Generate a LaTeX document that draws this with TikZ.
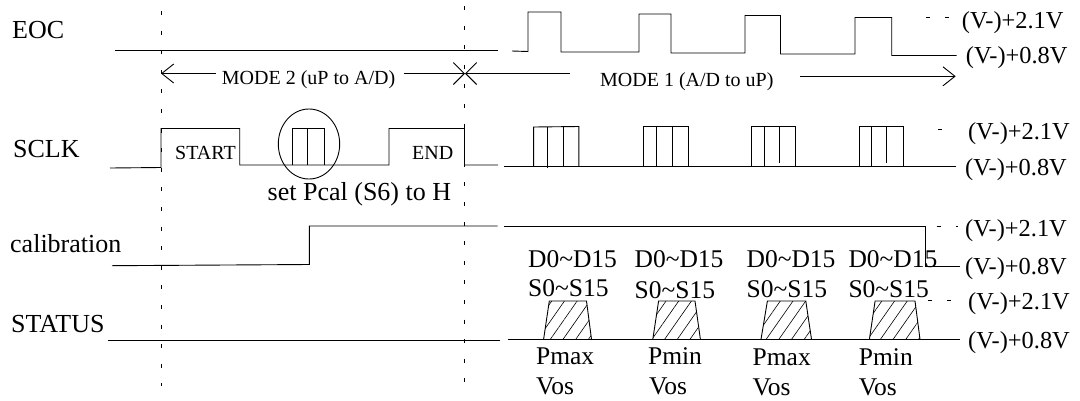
\documentclass[tikz,border=0pt]{standalone}
\usepackage{fontspec}
\setmainfont{Liberation Serif}
\usetikzlibrary{arrows.meta,patterns.meta}

\tikzset{
    lbl/.style={anchor=base west,inner sep=0pt,font=\fontsize{26}{26}\selectfont},
    data lbl/.style={anchor=base west,inner sep=0pt,font=\fontsize{25.5}{26}\selectfont},
    level lbl/.style={anchor=base west,inner sep=0pt,font=\fontsize{24.4}{26}\selectfont},
    small lbl/.style={anchor=base west,inner sep=0pt,font=\fontsize{20}{20}\selectfont},
    sigline/.style={line width=0.9pt,line join=miter},
    guide/.style={line width=0.9pt,dash pattern=on 4pt off 15.6pt},
    hatchbox/.style={sigline,pattern={Lines[angle=55,distance=10.4pt,line width=0.6pt]}},
    longtip/.style={-{Straight Barb[length=12pt,width=19pt]}},
    crosstip/.style={-{Straight Barb[length=11pt,width=22pt]}}
}

\begin{document}
\begin{tikzpicture}[x=1pt,y=-1pt]
            \useasboundingbox (0,0) rectangle (1080,400);
            \clip (0,0) rectangle (1074,400);

            % signal names
            \node[lbl] (eoc) at (12,38) {EOC};
            \node[lbl] (sclk) at (13,157) {SCLK};
            \node[lbl] (calib) at (10,252.7) {calibration};
            \node[lbl] (status) at (11,332.7) {STATUS};

            % guides
            \draw[guide] (161,11) -- (161,386);
            \draw[guide] (464,6) -- (464,382);

            % modes
            \node[small lbl] (mode2) at (221.7,84) {MODE 2 (uP to A/D)};
            \node[small lbl] (mode1) at (600,86) {MODE 1 (A/D to uP)};
            \coordinate (mode2a) at (216,73.5);
            \coordinate (mode2b) at (404,73.5);
            \coordinate (mode2l) at (161,73.5);
            \coordinate (modecross) at (465,73.5);
            \coordinate (mode1a) at (570,73.5);
            \coordinate (mode1b) at (800,76.3);
            \coordinate (mode1r) at (955.7,76.3);
            \draw[sigline,longtip] (mode2a) -- (mode2l);
            \draw[sigline,crosstip] (mode2b) -- (modecross);
            \draw[sigline,crosstip] (mode1a) -- (modecross);
            \draw[sigline,longtip] (mode1b) -- (mode1r);

            % EOC
            \draw[sigline] (115,50.5) -- (497.7,50.5);
            \draw[sigline] (512,51) -- (528,51.5) -- (528,12) -- (561,12) -- (561,52) -- (639,52) -- (639,14) -- (671,14) -- (671,53) -- (745,53) -- (745,15.5) -- (780.5,15.5) -- (780.5,54) -- (855,54) -- (855,17.5) -- (891.7,17.5) -- (891.7,55.5) -- (956.7,55.5);
            \draw[guide] (925.7,17) -- (950,17);

            % SCLK
            \draw[sigline] (110,168) -- (161,167.5) -- (161,128.5) -- (239.7,128.5) -- (239.7,165) -- (389,165) -- (389,128.5) -- (464.5,128.5) -- (464.5,165) -- (498,165);
            \draw[sigline] (292,165) -- (292,128.5) -- (324.3,128.5) -- (324.3,165);
            \draw[sigline] (307,128.5) -- (307,165);
            \draw[sigline] (309,144) ellipse (30.7 and 35);
            \node[small lbl] (start) at (175,159) {START};
            \node[small lbl] (end) at (412,159) {END};
            \node[lbl] (setpcal) at (267.5,200.7) {set Pcal (S6) to H};
            \draw[sigline] (504,166) -- (956.4,166);
            \draw[sigline] (533.6,166) -- (533.6,127) -- (578.9,126.5) -- (578.9,166);
            \draw[sigline] (547,168) -- (547,126.5);
            \draw[sigline] (563,166) -- (563,127);
            \draw[sigline] (643.3,166) -- (643.3,126.5) -- (688.5,126.5) -- (688.5,166);
            \draw[sigline] (656.3,167) -- (656.3,126.5);
            \draw[sigline] (672.4,166) -- (672.4,126.5);
            \draw[sigline] (751,166) -- (751,126.5) -- (795.8,126.5) -- (795.8,166);
            \draw[sigline] (764,166) -- (764,126.5);
            \draw[sigline] (779,163) -- (779,126.5);
            \draw[sigline] (859,166) -- (859,126.5) -- (903.5,126.5) -- (903.5,166);
            \draw[sigline] (871.7,166) -- (871.7,126.5);
            \draw[sigline] (886.3,163) -- (886.3,126.5);
            \draw[guide] (938,129) -- (942,129);

            % calibration
            \draw[sigline] (112,265.7) -- (309.3,264.5) -- (309.3,226) -- (497.6,226);
            \draw[sigline] (504,226) -- (925,226) -- (925,266.7) -- (959.5,266.7);
            \draw[guide] (936.5,226) -- (958,226);

            % STATUS
            \draw[sigline] (108,340) -- (500,340);
            \draw[sigline] (508,339.3) -- (959.5,339.3);
            \draw[guide] (927.7,300.7) -- (951,300.7);
            \draw[hatchbox] (543.6,339.3) -- (549.3,301) -- (586.5,301) -- (591.5,339.3);
            \draw[hatchbox] (652.8,339.3) -- (658.6,301) -- (695,301) -- (700.4,339.3);
            \draw[hatchbox] (761,339.3) -- (767.4,301) -- (805.8,301) -- (811.5,339.3);
            \draw[hatchbox] (869.4,339.3) -- (875.1,301) -- (915,301) -- (920,339.3);

            % data labels
            \node[data lbl] (data1) at (527.9,267.7) {D0\textasciitilde D15};
            \node[data lbl] (data2) at (634.4,267.7) {D0\textasciitilde D15};
            \node[data lbl] (data3) at (746.4,267.7) {D0\textasciitilde D15};
            \node[data lbl] (data4) at (848.3,267.7) {D0\textasciitilde D15};
            \node[data lbl] (stat1) at (527.9,296.7) {S0\textasciitilde S15};
            \node[data lbl] (stat2) at (634.4,298) {S0\textasciitilde S15};
            \node[data lbl] (stat3) at (746.4,297) {S0\textasciitilde S15};
            \node[data lbl] (stat4) at (848.3,297) {S0\textasciitilde S15};
            \node[data lbl] (press1) at (535.9,364) {Pmax};
            \node[data lbl] (press2) at (647.9,364) {Pmin};
            \node[data lbl] (press3) at (752.5,365.7) {Pmax};
            \node[data lbl] (press4) at (858.7,365.7) {Pmin};
            \node[data lbl] (vos1) at (535.9,394.5) {Vos};
            \node[data lbl] (vos2) at (649,394.5) {Vos};
            \node[data lbl] (vos3) at (752.5,395.5) {Vos};
            \node[data lbl] (vos4) at (858.7,395.5) {Vos};

            % levels
            \node[level lbl] (eochigh) at (961.7,28) {(V-)+2.1V};
            \node[level lbl] (eoclow) at (965.7,63.5) {(V-)+0.8V};
            \node[level lbl] (sclkhigh) at (967.9,139) {(V-)+2.1V};
            \node[level lbl] (sclklow) at (965,175) {(V-)+0.8V};
            \node[level lbl] (calibhigh) at (965,236) {(V-)+2.1V};
            \node[level lbl] (caliblow) at (965,274) {(V-)+0.8V};
            \node[level lbl] (statushigh) at (968,309) {(V-)+2.1V};
            \node[level lbl] (statuslow) at (968,348) {(V-)+0.8V};
        \end{tikzpicture}
\end{document}
